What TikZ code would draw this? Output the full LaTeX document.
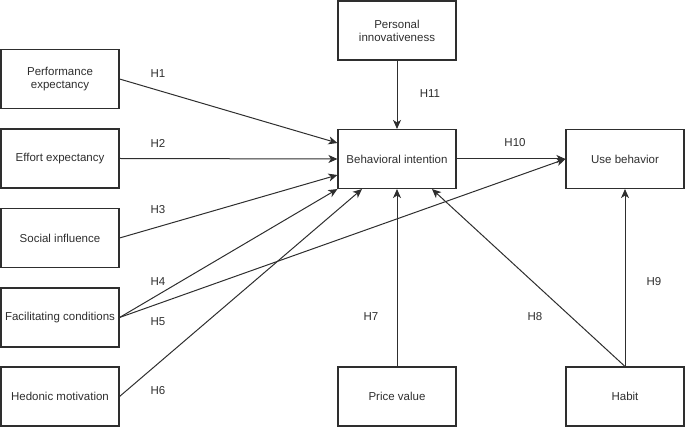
\documentclass[tikz,border=0pt]{standalone}
\usepackage{fontspec}
\setmainfont{Liberation Sans}
\usetikzlibrary{arrows.meta}

\begin{document}
\begin{tikzpicture}[x=1pt,y=-1pt,font=\fontsize{11.5}{13}\selectfont,color=black!82]
% Estilos
\tikzset{construct/.style={rectangle,draw,line width=1.1pt,minimum width=118pt,minimum height=59pt,align=center,inner sep=2pt},
  path arrow/.style={line width=1pt,-{Stealth[length=9pt,width=8pt,inset=2.5pt]}},
  hyp/.style={inner sep=0pt}}

\useasboundingbox (0,0) rectangle (685,427);

% Constructos
  \node[construct] (pe) at (60,79) {Performance\\expectancy};
  \node[construct] (ee) at (60,158.5) {Effort expectancy};
  \node[construct] (si) at (60,238) {Social influence};
  \node[construct] (fc) at (60,317.5) {Facilitating conditions};
  \node[construct] (hm) at (60,396.5) {Hedonic motivation};
  \node[construct] (pi) at (397,30.5) {Personal\\innovativeness};
  \node[construct] (bi) at (397,159) {Behavioral intention};
  \node[construct] (ub) at (625,159) {Use behavior};
  \node[construct] (pv) at (397,396.5) {Price value};
  \node[construct] (ha) at (625,396.5) {Habit};

% Hipotesis
\draw[path arrow] (pe.east) -- ([yshift=16pt]bi.west);
\draw[path arrow] (ee.east) -- (bi.west);
\draw[path arrow] (si.east) -- ([yshift=-16pt]bi.west);
\draw[path arrow] (fc.east) -- (bi.south west);
\draw[path arrow] (fc.east) -- (ub.west);
\draw[path arrow] (hm.east) -- ([xshift=-35pt]bi.south);
\draw[path arrow] (pv.north) -- (bi.south);
\draw[path arrow] (ha.north) -- ([xshift=35pt]bi.south);
\draw[path arrow] (ha.north) -- (ub.south);
\draw[path arrow] (bi.east) -- (ub.west);
\draw[path arrow] (pi.south) -- (bi.north);

  \node[hyp] (h1) at (158,74) {H1};
  \node[hyp] (h2) at (158,143) {H2};
  \node[hyp] (h3) at (158,210) {H3};
  \node[hyp] (h4) at (158,282) {H4};
  \node[hyp] (h5) at (158,322) {H5};
  \node[hyp] (h6) at (158,391) {H6};
  \node[hyp] (h7) at (371,317) {H7};
  \node[hyp] (h8) at (535,317) {H8};
  \node[hyp] (h9) at (654,282) {H9};
  \node[hyp] (h10) at (515,143) {H10};
  \node[hyp] (h11) at (430,94) {H11};

\end{tikzpicture}
\end{document}
